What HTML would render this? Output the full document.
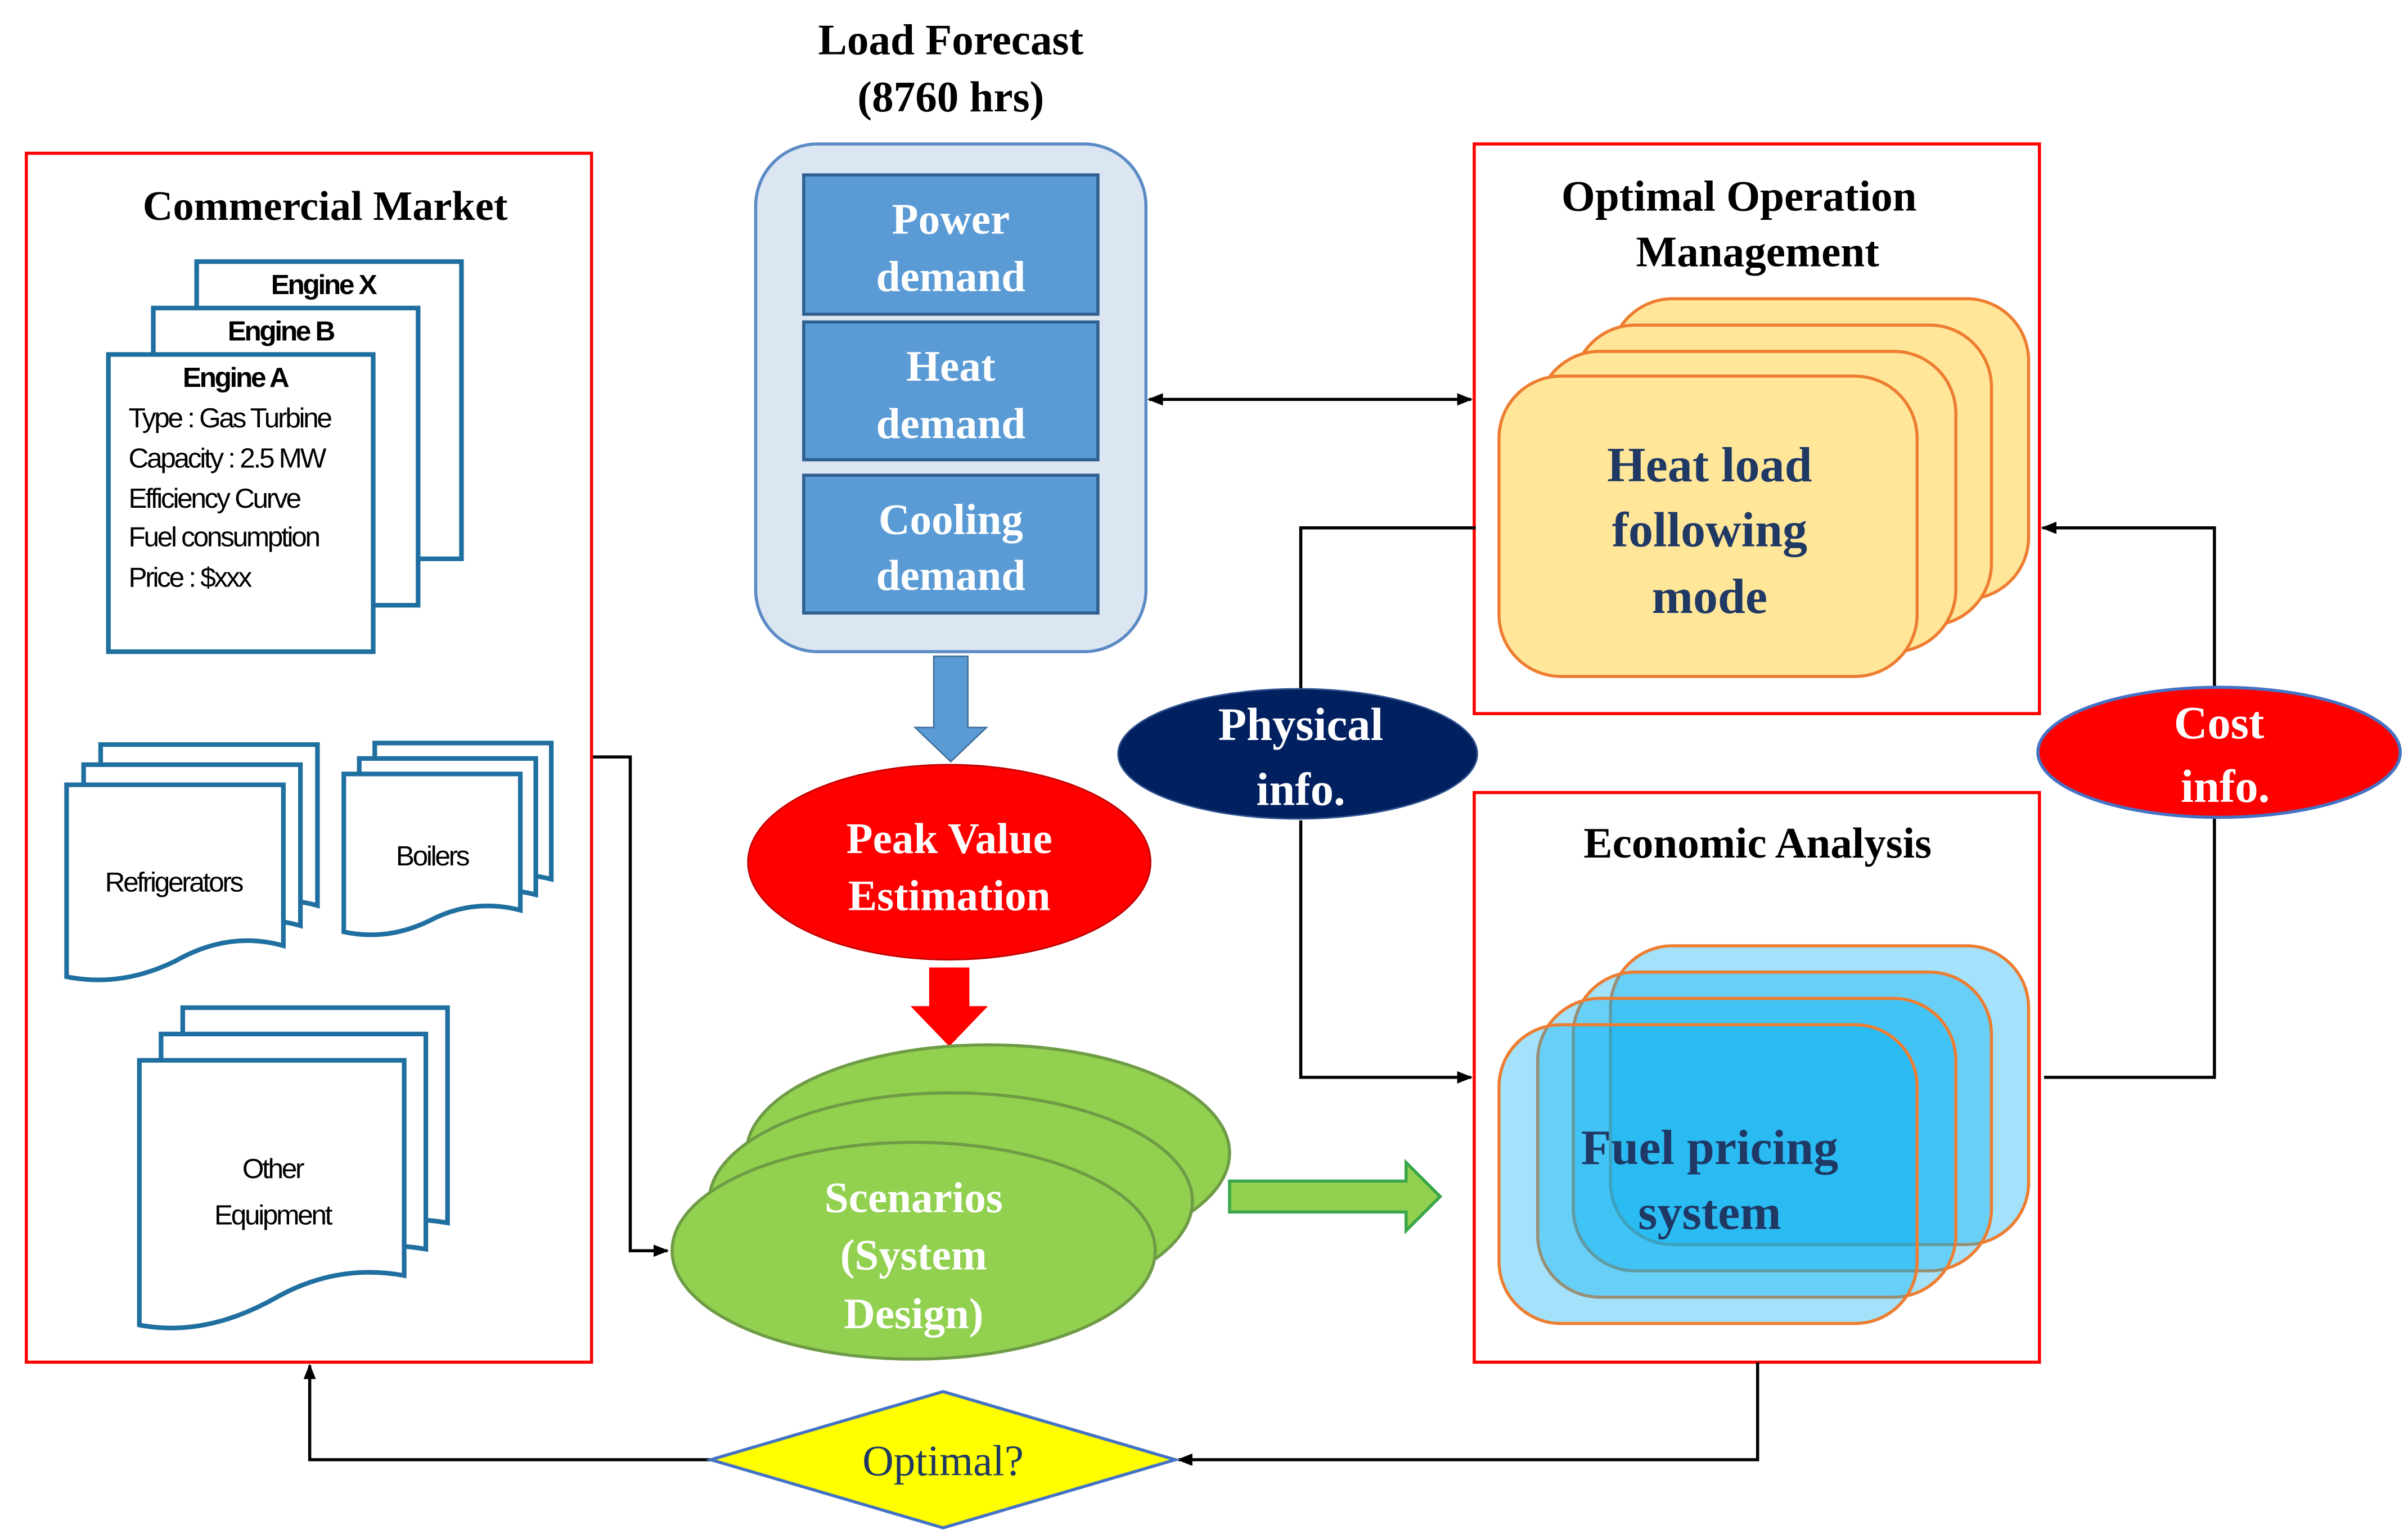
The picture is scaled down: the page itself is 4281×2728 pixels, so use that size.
<!DOCTYPE html>
<html><head><meta charset="utf-8"><style>
html,body{margin:0;padding:0;background:#fff}
svg{display:block}
.t{font-family:"Liberation Serif",serif;font-weight:bold;text-anchor:middle}
.s{font-family:"Liberation Sans",sans-serif;font-size:18px;letter-spacing:-1.2px}
</style></head><body>
<svg width="4281" height="2728" viewBox="0 0 1555 991" preserveAspectRatio="none" xmlns="http://www.w3.org/2000/svg">
<defs>
<marker id="a" markerWidth="10" markerHeight="10" refX="9" refY="5" orient="auto" markerUnits="userSpaceOnUse"><path d="M0,1 L10,5 L0,9 Z" fill="#000"/></marker>
<marker id="as" markerWidth="10" markerHeight="10" refX="1" refY="5" orient="auto" markerUnits="userSpaceOnUse"><path d="M10,1 L0,5 L10,9 Z" fill="#000"/></marker>
</defs>
<rect width="1555" height="991" fill="#fff"/>

<text class="t" x="614" y="35" font-size="28">Load Forecast</text>
<text class="t" x="614" y="72" font-size="28">(8760 hrs)</text>
<rect x="488" y="93" width="252" height="328" rx="40" fill="#dce6f2" stroke="#5b8bc5" stroke-width="2"/>
<g fill="#5b9bd5" stroke="#2e5f8f" stroke-width="2">
<rect x="519" y="113" width="190" height="90"/>
<rect x="519" y="208" width="190" height="89"/>
<rect x="519" y="307" width="190" height="89"/>
</g>
<g class="t" font-size="28" fill="#fff">
<text x="614" y="151">Power</text><text x="614" y="188">demand</text>
<text x="614" y="246">Heat</text><text x="614" y="283">demand</text>
<text x="614" y="345">Cooling</text><text x="614" y="381">demand</text>
</g>
<path d="M603,424 H625 V470 H637 L614,492 L591,470 H603 Z" fill="#5b9bd5" stroke="#41719c"/>

<ellipse cx="613" cy="557" rx="130" ry="63" fill="#ff0000" stroke="#c00000"/>
<text class="t" x="613" y="551" font-size="28" fill="#fff">Peak Value</text>
<text class="t" x="613" y="588" font-size="28" fill="#fff">Estimation</text>
<path d="M600,625 H626 V650 H638 L613,676 L588,650 H600 Z" fill="#ff0000"/>

<g fill="#92d050" stroke="#6e9b45" stroke-width="2">
<ellipse cx="638" cy="745" rx="156" ry="70"/>
<ellipse cx="614" cy="776" rx="156" ry="70"/>
<ellipse cx="590" cy="808" rx="156" ry="70"/>
</g>
<g class="t" font-size="28" fill="#fff">
<text x="590" y="783">Scenarios</text><text x="590" y="820">(System</text><text x="590" y="858">Design)</text>
</g>
<path d="M794,763 H908 V751 L930,773 L908,795 V783 H794 Z" fill="#92d050" stroke="#3aa64a" stroke-width="2"/>

<rect x="17" y="99" width="365" height="781" fill="none" stroke="#ff0000" stroke-width="2"/>
<text class="t" x="210" y="142" font-size="27" fill="#000">Commercial Market</text>
<g fill="#fff" stroke="#1f6fa0" stroke-width="3">
<rect x="127" y="169" width="171" height="192"/>
<rect x="99" y="199" width="171" height="192"/>
<rect x="70" y="229" width="171" height="192"/>
</g>
<g class="s" fill="#000">
<text x="175" y="190" font-weight="bold">Engine X</text>
<text x="147" y="220" font-weight="bold">Engine B</text>
<text x="118" y="250" font-weight="bold">Engine A</text>
<text x="83" y="276">Type : Gas Turbine</text>
<text x="83" y="302">Capacity : 2.5 MW</text>
<text x="83" y="328">Efficiency Curve</text>
<text x="83" y="353">Fuel consumption</text>
<text x="83" y="379">Price : $xxx</text>
</g>
<g fill="#fff" stroke="#1f6fa0" stroke-width="3">
<path d="M65,481 H205 V585 Q170,575 135,595 Q100,612 65,605 Z"/>
<path d="M54,494 H194 V598 Q159,588 124,608 Q89,625 54,618 Z"/>
<path d="M43,507 H183 V611 Q148,601 113,621 Q78,638 43,631 Z"/>
<path d="M242,480 H356 V568 Q325,560 297,575 Q270,588 242,582 Z"/>
<path d="M232,490 H346 V578 Q315,570 287,585 Q260,598 232,592 Z"/>
<path d="M222,500 H336 V588 Q305,580 277,595 Q250,608 222,602 Z"/>
<path d="M118,651 H289 V790 Q245,782 205,805 Q160,830 118,822 Z"/>
<path d="M104,668 H275 V807 Q231,799 191,822 Q146,847 104,839 Z"/>
<path d="M90,685 H261 V824 Q217,816 177,839 Q132,864 90,856 Z"/>
</g>
<g class="s" fill="#000" font-size="20">
<text x="112" y="576" text-anchor="middle">Refrigerators</text>
<text x="279" y="559" text-anchor="middle">Boilers</text>
<text x="176" y="761" text-anchor="middle">Other</text>
<text x="176" y="791" text-anchor="middle">Equipment</text>
</g>

<rect x="952" y="93" width="365" height="368" fill="none" stroke="#ff0000" stroke-width="2"/>
<text class="t" x="1123" y="136" font-size="28">Optimal Operation</text>
<text class="t" x="1135" y="172" font-size="28">Management</text>
<g fill="#ffe699" stroke="#ed7d31" stroke-width="2">
<rect x="1040" y="193" width="270" height="194" rx="40"/>
<rect x="1016" y="210" width="270" height="194" rx="40"/>
<rect x="993" y="227" width="270" height="194" rx="40"/>
<rect x="968" y="243" width="270" height="194" rx="40"/>
</g>
<g class="t" font-size="32" fill="#1f3864">
<text x="1104" y="311">Heat load</text><text x="1104" y="353">following</text><text x="1104" y="396">mode</text>
</g>

<rect x="952" y="512" width="365" height="368" fill="none" stroke="#ff0000" stroke-width="2"/>
<text class="t" x="1135" y="554" font-size="28">Economic Analysis</text>
<g stroke="#ed7d31" stroke-width="2" fill="#00b0f0" fill-opacity="0.36">
<rect x="1040" y="611" width="270" height="193" rx="40"/>
<rect x="1016" y="628" width="270" height="193" rx="40"/>
<rect x="993" y="645" width="270" height="193" rx="40"/>
<rect x="968" y="662" width="270" height="193" rx="40"/>
</g>
<g class="t" font-size="32" fill="#1f3864">
<text x="1104" y="752">Fuel pricing</text><text x="1104" y="794">system</text>
</g>

<g fill="none" stroke="#000" stroke-width="2">
<line x1="742" y1="258" x2="950" y2="258" marker-start="url(#as)" marker-end="url(#a)"/>
<polyline points="953,341 840,341 840,445"/>
<polyline points="840,530 840,696 950,696" marker-end="url(#a)"/>
<polyline points="1320,696 1430,696 1430,528"/>
<polyline points="1430,443 1430,341 1319,341" marker-end="url(#a)"/>
<polyline points="383,489 407,489 407,808 431,808" marker-end="url(#a)"/>
<polyline points="1135,880 1135,943 761,943" marker-end="url(#a)"/>
<polyline points="460,943 200,943 200,882" marker-end="url(#a)"/>
</g>

<ellipse cx="838" cy="487" rx="116" ry="42" fill="#002060" stroke="#2f528f"/>
<text class="t" x="840" y="478" font-size="30" fill="#fff">Physical</text>
<text class="t" x="840" y="520" font-size="30" fill="#fff">info.</text>
<ellipse cx="1433" cy="486" rx="117" ry="42" fill="#ff0000" stroke="#4472c4" stroke-width="2"/>
<text class="t" x="1433" y="477" font-size="30" fill="#fff">Cost</text>
<text class="t" x="1437" y="518" font-size="30" fill="#fff">info.</text>

<path d="M459,943 L609,899 L759,943 L609,987 Z" fill="#ffff00" stroke="#4472c4" stroke-width="2"/>
<text x="609" y="953" font-family="Liberation Serif,serif" font-size="28" text-anchor="middle" fill="#1f3864">Optimal?</text>
</svg>
</body></html>
